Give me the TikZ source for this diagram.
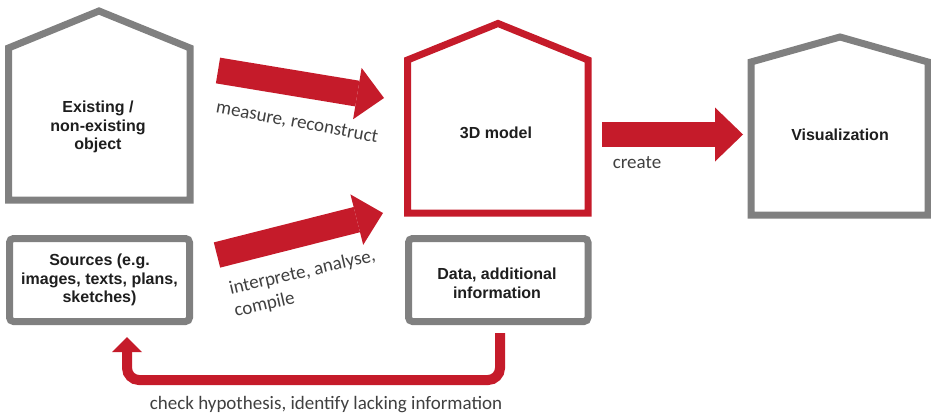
\documentclass[tikz,border=0pt]{standalone}
\usepackage{fontspec}
\setmainfont{Liberation Sans}
\newfontfamily\labfont{Carlito}
\usetikzlibrary{arrows.meta}
\definecolor{arrred}{RGB}{197,27,42}
\definecolor{boxgray}{RGB}{128,128,128}
\definecolor{labgray}{RGB}{64,64,64}
\definecolor{txtblack}{RGB}{30,30,30}
\tikzset{
  housegray/.style={line width=7pt, draw=boxgray, fill=white, line join=miter},
  housered/.style={line width=7pt, draw=arrred, fill=white, line join=miter},
  srcbox/.style={rectangle, rounded corners=4pt, line width=7pt, draw=boxgray, fill=white,
    minimum width=180pt, minimum height=83pt, inner sep=0pt},
  boxtext/.style={font=\bfseries\fontsize{16}{18.6}\selectfont, text=txtblack, align=center, inner sep=0pt},
  lbl/.style={font=\labfont\fontsize{19}{23}\selectfont, text=labgray, inner sep=0pt},
  fatarrow/.style={draw=arrred, line width=26pt,
    -{Triangle[width=52pt,length=27pt,line width=0pt]}},
  backarrow/.style={draw=arrred, line width=10pt, rounded corners=12pt,
    -{Triangle[width=30pt,length=15pt,line width=0pt]}}
}
\begin{document}
\begin{tikzpicture}[x=1pt,y=-1pt]
\useasboundingbox (0,0) rectangle (931,415);
\fill[white] (0,0) rectangle (931,415);

% houses
\draw[housegray] (8.5,200) -- (8.5,48) -- (99,11) -- (190,48) -- (190,200) -- cycle;
\draw[housered] (407.5,213) -- (407.5,60) -- (498,23.5) -- (588,60) -- (588,213) -- cycle;
\draw[housegray] (751,215) -- (751,62) -- (840,37) -- (928,62) -- (928,215) -- cycle;

\node[boxtext] (obj) at (98,127) {Existing /\\non-existing\\object};
\node[boxtext] (model) at (496,133) {3D model};
\node[boxtext] (vis) at (840,135) {Visualization};

% boxes
\node[srcbox] (src) at (99.5,280) {};
\node[boxtext] (srctext) at (src.center) {Sources (e.g.\\images, texts, plans,\\sketches)};
\node[srcbox, minimum width=179.5pt] (data) at (498.25,280) {};
\node[boxtext] (datatext) at (497,283) {Data, additional\\information};

% fat arrows
\coordinate (m1) at (218,70.5);
\coordinate (m2) at (384,98);
\draw[fatarrow] (m1) -- (m2);
\coordinate (i1) at (217,255);
\coordinate (i2) at (383,213);
\draw[fatarrow] (i1) -- (i2);
\coordinate (c1) at (602,134.5);
\coordinate (c2) at (743,134.5);
\draw[fatarrow, line width=25pt, -{Triangle[width=54pt,length=28pt,line width=0pt]}] (c1) -- (c2);

% feedback arrow
\coordinate (f1) at (500,333);
\coordinate (f2) at (127,380);
\coordinate (f3) at (127,337);
\draw[backarrow] (f1) |- (f2) -- (f3);

% labels
\node[lbl, rotate=-10.5] (lm) at (297,123) {measure, reconstruct};
\node[lbl, rotate=13, align=left] (li) at (305,284) {interprete, analyse,\\compile};
\node[lbl] (lc) at (637,163) {create};
\node[lbl] (lh) at (326,405) {check hypothesis, identify lacking information};
\end{tikzpicture}
\end{document}
